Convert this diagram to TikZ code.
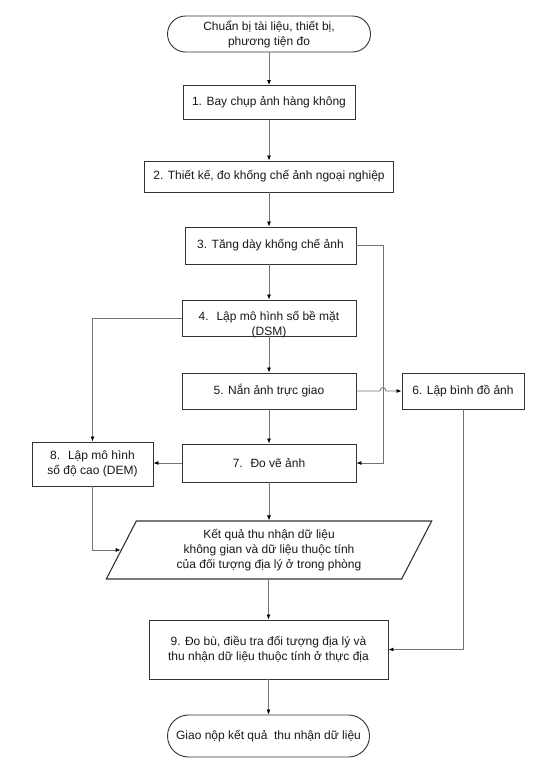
\documentclass[tikz,border=0pt]{standalone}
\usepackage{fontspec}
\setmainfont{Liberation Sans}
\usetikzlibrary{arrows.meta,shapes.geometric}
\begin{document}
\begin{tikzpicture}[x=1pt,y=-1pt,
  every node/.style={font=\fontsize{12}{15}\selectfont, text=black!90},
  box/.style={draw=black!80, line width=0.9pt, fill=white, align=center, inner sep=0pt},
  term/.style={box, rounded corners=18pt},
  conn/.style={draw=black!55, line width=0.8pt},
  arr/.style={conn, -{Latex[length=5pt,width=4pt,color=black]}}]
\useasboundingbox (0,0) rectangle (537,763);
\fill[white] (0,0) rectangle (537,763);

\node[term, minimum width=203pt, minimum height=36pt] (start) at (269,34) {Chuẩn bị tài liệu, thiết bị,\\phương tiện đo};
\node[box, minimum width=172pt, minimum height=34pt] (b1) at (269,102.5) {1. Bay chụp ảnh hàng không};
\node[box, minimum width=249pt, minimum height=31pt] (b2) at (269,176.5) {2. Thiết kế, đo khống chế ảnh ngoại nghiệp};
\node[box, minimum width=171pt, minimum height=37pt] (b3) at (270.5,245.5) {3. Tăng dày khống chế ảnh};
\node[box, minimum width=174pt, minimum height=36pt] (b4) at (269,318) {};
\node (b4t) at (269,324.5) [align=center] {4.~ Lập mô hình số bề mặt\\(DSM)};
\node[box, minimum width=174pt, minimum height=36pt] (b5) at (269,391) {5. Nắn ảnh trực giao};
\node[box, minimum width=122pt, minimum height=36pt] (b6) at (463,391) {6. Lập bình đồ ảnh};
\node[box, minimum width=174pt, minimum height=38pt] (b7) at (269,463) {7.~ Đo vẽ ảnh};
\node[box, minimum width=121pt, minimum height=44pt] (b8) at (92.5,464) {8.~ Lập mô hình\\số độ cao (DEM)};
\node[box, trapezium, trapezium stretches=true, trapezium left angle=63.4, trapezium right angle=116.6,
      minimum width=326pt, minimum height=58pt, line width=1.1pt] (par) at (269,550)
      {Kết quả thu nhận dữ liệu\\không gian và dữ liệu thuộc tính\\của đối tượng địa lý ở trong phòng};
\node[box, minimum width=239pt, minimum height=59pt] (b9) at (268.5,649.5) {9. Đo bù, điều tra đối tượng địa lý và\\thu nhận dữ liệu thuộc tính ở thực địa};
\node[term, rounded corners=21pt, minimum width=202pt, minimum height=42pt] (end) at (268.5,736) {Giao nộp kết quả~ thu nhận dữ liệu};

\coordinate (r3) at (383,463);
\coordinate (h1) at (380,391);
\coordinate (h1c) at (380,386.5);
\coordinate (h2c) at (386,386.5);
\coordinate (h2) at (386,391);

\draw[arr] (start.south) -- (start.south |- b1.north);
\draw[arr] (b1.south) -- (b1.south |- b2.north);
\draw[arr] (b2.south) -- (b2.south |- b3.north);
\draw[arr] (b3.south -| b4.north) -- (b4.north);
\draw[arr] (b4.south) -- (b5.north);
\draw[arr] (b5.south) -- (b7.north);
\draw[arr] (b7.south) -- (b7.south |- par.north);
\draw[arr] (par.south -| b9.north) -- (b9.north);
\draw[arr] (b9.south) -- (b9.south |- end.north);

\draw[arr] (b3.east) -| (r3) -- (b7.east);
\draw[arr] (b5.east) -- (h1) .. controls (h1c) and (h2c) .. (h2) -- (b6.west);
\draw[arr] (b6.south) |- (b9.east);
\draw[arr] (b4.west) -| (b8.north);
\draw[arr] (b7.west) -- (b7.west -| b8.east);
\draw[arr] (b8.south) |- (par.west);
\end{tikzpicture}
\end{document}
